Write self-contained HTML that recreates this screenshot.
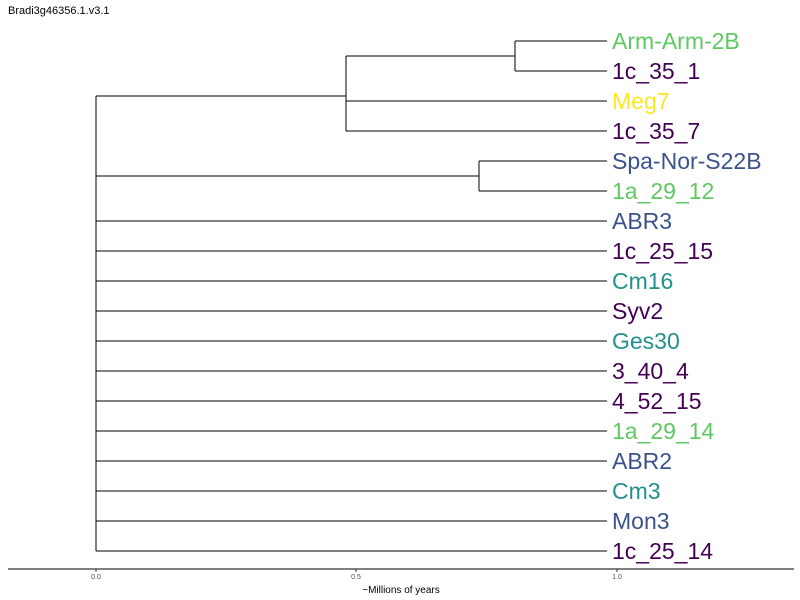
<!DOCTYPE html>
<html><head><meta charset="utf-8"><style>body{margin:0;background:#fff}svg{display:block}</style></head>
<body>
<svg width="800" height="600" xmlns="http://www.w3.org/2000/svg" font-family="Liberation Sans, sans-serif">
<rect width="800" height="600" fill="#fff"/>
<text x="8" y="14" font-size="11" fill="#000">Bradi3g46356.1.v3.1</text>
<g stroke="#000" stroke-width="1" fill="none">
<line x1="96" y1="96" x2="96" y2="551"/>
<line x1="96" y1="96" x2="346" y2="96"/>
<line x1="346" y1="56" x2="346" y2="131"/>
<line x1="346" y1="56" x2="515" y2="56"/>
<line x1="515" y1="41" x2="515" y2="71"/>
<line x1="515" y1="41" x2="607" y2="41"/>
<line x1="515" y1="71" x2="607" y2="71"/>
<line x1="346" y1="101" x2="607" y2="101"/>
<line x1="346" y1="131" x2="607" y2="131"/>
<line x1="96" y1="176" x2="479" y2="176"/>
<line x1="479" y1="161" x2="479" y2="191"/>
<line x1="479" y1="161" x2="607" y2="161"/>
<line x1="479" y1="191" x2="607" y2="191"/>
<line x1="96" y1="221" x2="607" y2="221"/>
<line x1="96" y1="251" x2="607" y2="251"/>
<line x1="96" y1="281" x2="607" y2="281"/>
<line x1="96" y1="311" x2="607" y2="311"/>
<line x1="96" y1="341" x2="607" y2="341"/>
<line x1="96" y1="371" x2="607" y2="371"/>
<line x1="96" y1="401" x2="607" y2="401"/>
<line x1="96" y1="431" x2="607" y2="431"/>
<line x1="96" y1="461" x2="607" y2="461"/>
<line x1="96" y1="491" x2="607" y2="491"/>
<line x1="96" y1="521" x2="607" y2="521"/>
<line x1="96" y1="551" x2="607" y2="551"/>
</g>
<g font-size="23" dominant-baseline="central">
<text x="612" y="41" fill="#5ec962">Arm-Arm-2B</text>
<text x="612" y="71" fill="#440154">1c_35_1</text>
<text x="612" y="101" fill="#fde725">Meg7</text>
<text x="612" y="131" fill="#440154">1c_35_7</text>
<text x="612" y="161" fill="#3b528b">Spa-Nor-S22B</text>
<text x="612" y="191" fill="#5ec962">1a_29_12</text>
<text x="612" y="221" fill="#3b528b">ABR3</text>
<text x="612" y="251" fill="#440154">1c_25_15</text>
<text x="612" y="281" fill="#21918c">Cm16</text>
<text x="612" y="311" fill="#440154">Syv2</text>
<text x="612" y="341" fill="#21918c">Ges30</text>
<text x="612" y="371" fill="#440154">3_40_4</text>
<text x="612" y="401" fill="#440154">4_52_15</text>
<text x="612" y="431" fill="#5ec962">1a_29_14</text>
<text x="612" y="461" fill="#3b528b">ABR2</text>
<text x="612" y="491" fill="#21918c">Cm3</text>
<text x="612" y="521" fill="#3b528b">Mon3</text>
<text x="612" y="551" fill="#440154">1c_25_14</text>
</g>
<line x1="8" y1="569" x2="794" y2="569" stroke="#000" stroke-width="1"/>
<g stroke="#333"><line x1="96" y1="569" x2="96" y2="572"/><line x1="356" y1="569" x2="356" y2="572"/><line x1="617" y1="569" x2="617" y2="572"/></g>
<g font-size="7" fill="#4d4d4d" text-anchor="middle">
<text x="96" y="579">0.0</text><text x="356" y="579">0.5</text><text x="617" y="579">1.0</text>
</g>
<text x="401" y="593" font-size="10" text-anchor="middle" fill="#000">~Millions of years</text>
</svg>
</body></html>
